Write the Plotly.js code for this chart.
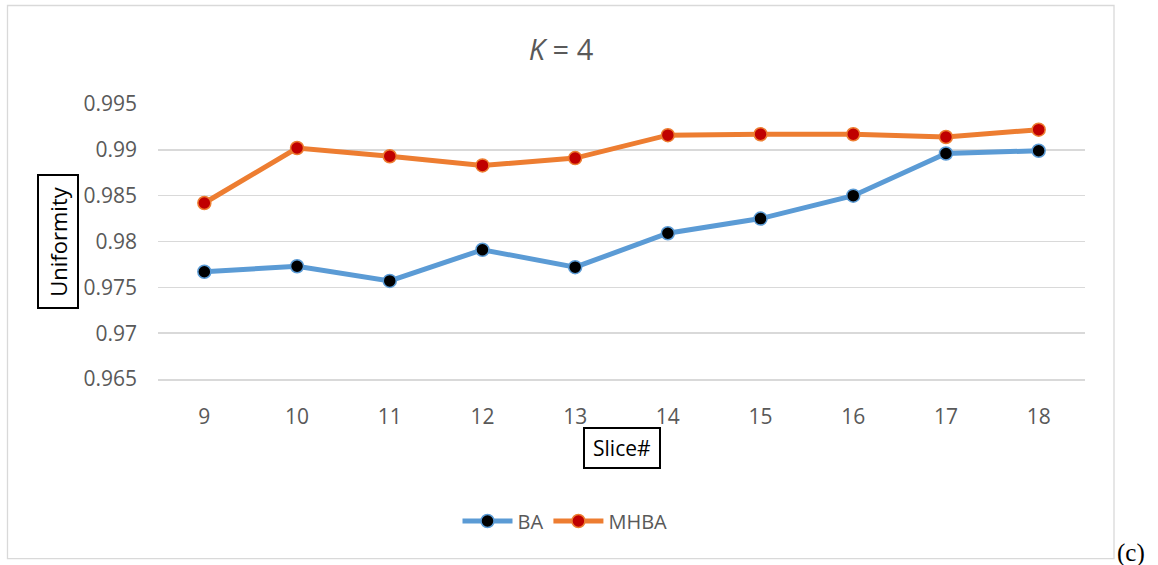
<!DOCTYPE html>
<html>
<head>
<meta charset="utf-8">
<script src="https://cdn.plot.ly/plotly-3.0.1.min.js"></script>
<style>
  html, body { margin: 0; padding: 0; background: #ffffff; }
  #chart { width: 1158px; height: 565px; }
</style>
</head>
<body>
<div id="chart"></div>
<script>
// Slice numbers on the horizontal axis
const slices = [9, 10, 11, 12, 13, 14, 15, 16, 17, 18];
// Uniformity per slice for each method (K = 4)
const baValues   = [0.9767, 0.9773, 0.9757, 0.9791, 0.9772, 0.9809, 0.9825, 0.9850, 0.9896, 0.9899];
const mhbaValues = [0.9842, 0.9902, 0.9893, 0.9883, 0.9891, 0.9916, 0.9917, 0.9917, 0.9914, 0.9922];
// Vertical axis ticks
const yTicks = [0.965, 0.97, 0.975, 0.98, 0.985, 0.99, 0.995];
const yTickText = ['0.965', '0.97', '0.975', '0.98', '0.985', '0.99', '0.995'];

const W = 1158, H = 565;
const plotLeft = 158, plotRight = 1085, plotTop = 104, plotBottom = 379;
const pw = plotRight - plotLeft, ph = plotBottom - plotTop;
// pixel -> paper coordinates helpers for layout items
const px = x => (x - plotLeft) / pw;
const py = y => (plotBottom - y) / ph;

const grey = '#595959';
const font = 'Open Sans, Noto Sans, sans-serif';

const traces = [
  {
    x: slices, y: baValues, name: 'BA', type: 'scatter', mode: 'lines+markers',
    line: { color: '#5B9BD5', width: 5 },
    marker: { color: '#000000', size: 13, line: { color: '#5B9BD5', width: 1.5 } }
  },
  {
    x: slices, y: mhbaValues, name: 'MHBA', type: 'scatter', mode: 'lines+markers',
    line: { color: '#ED7D31', width: 5 },
    marker: { color: '#C00000', size: 13, line: { color: '#ED7D31', width: 1.5 } }
  }
];

const layout = {
  width: W, height: H,
  margin: { l: plotLeft, r: W - plotRight, t: plotTop, b: H - plotBottom, pad: 0 },
  paper_bgcolor: '#ffffff', plot_bgcolor: '#ffffff',
  font: { family: font, color: grey, size: 21 },
  title: {
    text: '<i>K</i> = 4',
    font: { family: font, size: 29, color: grey },
    xref: 'paper', x: px(561), xanchor: 'center',
    yref: 'container', y: 1 - 50 / H, yanchor: 'middle'
  },
  xaxis: {
    range: [8.5, 18.5], tickvals: slices, ticktext: slices.map(String),
    showgrid: false, zeroline: false, ticks: '',
    showline: true, linecolor: '#D9D9D9', linewidth: 1.5,
    ticklabelstandoff: 18,
    tickfont: { family: font, size: 21, color: grey }
  },
  yaxis: {
    range: [0.965, 0.995], tickvals: yTicks, ticktext: yTickText,
    showgrid: true, gridcolor: '#D9D9D9', gridwidth: 1.5,
    zeroline: false, showline: false, ticks: '',
    ticklabelstandoff: 20,
    tickfont: { family: font, size: 21, color: grey }
  },
  showlegend: true,
  legend: {
    orientation: 'h', xref: 'paper', yref: 'paper',
    x: px(565), xanchor: 'center', y: py(521), yanchor: 'middle',
    font: { family: font, size: 20, color: grey },
    bgcolor: 'rgba(0,0,0,0)', itemwidth: 50
  },
  shapes: [
    {
      type: 'rect', xref: 'paper', yref: 'paper', layer: 'below',
      x0: px(7.5), x1: px(1114), y0: py(558.7), y1: py(5.5),
      line: { color: '#D9D9D9', width: 1.3 }, fillcolor: 'rgba(0,0,0,0)'
    }
  ],
  annotations: [
    {
      text: 'Uniformity', textangle: -90, showarrow: false,
      xref: 'paper', yref: 'paper', x: px(57.5), y: py(241.5),
      xanchor: 'center', yanchor: 'middle',
      font: { family: font, size: 22, color: '#000000' },
      bordercolor: '#000000', borderwidth: 2, borderpad: 0,
      width: 131, height: 38, bgcolor: '#ffffff'
    },
    {
      text: 'Slice#', showarrow: false,
      xref: 'paper', yref: 'paper', x: px(621.7), y: py(448),
      xanchor: 'center', yanchor: 'middle',
      font: { family: font, size: 21, color: '#000000' },
      bordercolor: '#000000', borderwidth: 2, borderpad: 0,
      width: 74, height: 38, bgcolor: '#ffffff'
    },
    {
      text: '(c)', showarrow: false,
      xref: 'paper', yref: 'paper', x: px(1115), y: py(553),
      xanchor: 'left', yanchor: 'middle',
      font: { family: 'Liberation Serif, Times New Roman, serif', size: 25, color: '#000000' }
    }
  ]
};

Plotly.newPlot('chart', traces, layout, { displayModeBar: false, staticPlot: true });
</script>
</body>
</html>
